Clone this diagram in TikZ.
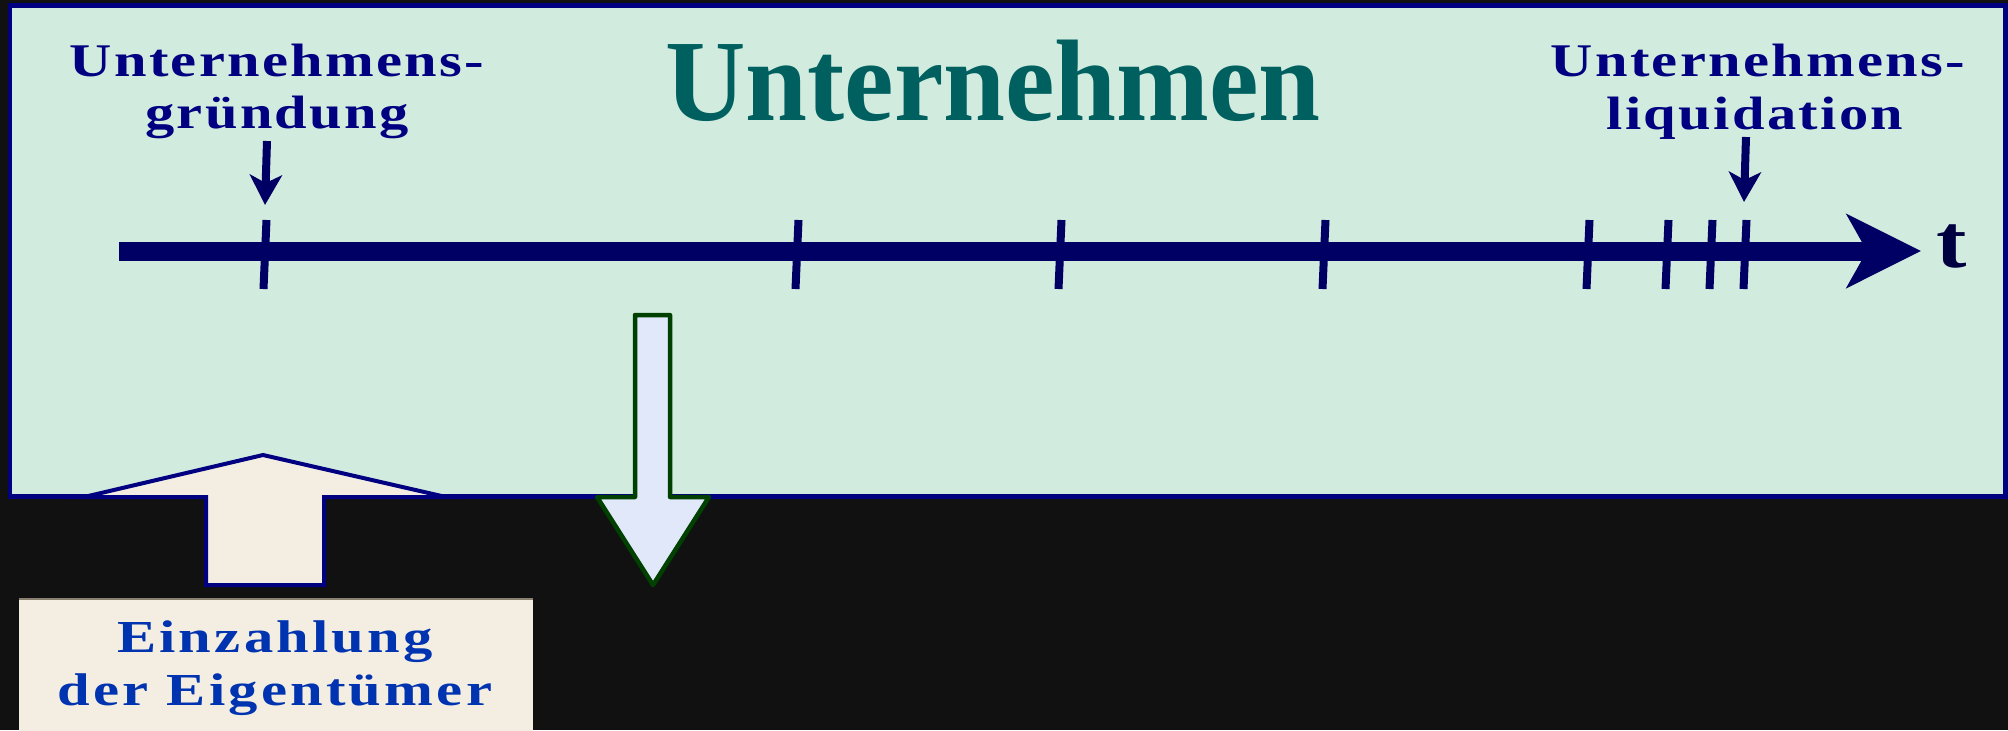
\documentclass[tikz,border=0pt]{standalone}
\usepackage{fontspec}
\setmainfont{Liberation Serif}
\newfontfamily\widefont[FakeStretch=1.25, LetterSpace=5]{Liberation Serif}
\newfontfamily\einfont[FakeStretch=1.28, LetterSpace=7]{Liberation Serif}
\newfontfamily\titlefont[FakeStretch=0.96]{Liberation Serif}
\newfontfamily\tfont[FakeStretch=1.2]{Liberation Serif}
\usetikzlibrary{arrows.meta}
\definecolor{bgdark}{HTML}{111111}
\definecolor{panel}{HTML}{D1ECDE}
\definecolor{navy}{HTML}{000080}
\definecolor{axis}{HTML}{000064}
\definecolor{titleteal}{HTML}{006060}
\definecolor{cream}{HTML}{F4EEE2}
\definecolor{lblue}{HTML}{E0E8FA}
\definecolor{dgreen}{HTML}{004000}
\definecolor{einblue}{HTML}{0033B0}
\definecolor{tcol}{HTML}{000040}
\definecolor{boxedge}{HTML}{8A8070}
\tikzset{
  lbl/.style={font=\widefont\bfseries\fontsize{23.4}{28}\selectfont, text=navy, anchor=base, inner sep=0pt},
  einlbl/.style={font=\einfont\bfseries\fontsize{22.9}{27}\selectfont, text=einblue, anchor=base, inner sep=0pt},
  tick/.style={axis, line width=4pt},
  smallarrow/.style={axis, line width=4pt, -{Stealth[length=15pt,width=16pt,inset=4pt]}},
}
\begin{document}
\begin{tikzpicture}[x=0.5pt,y=-0.5pt]
\useasboundingbox (0,0) rectangle (2008,730);
\fill[bgdark] (0,0) rectangle (2008,730);
% main panel
\draw[navy, line width=2.25pt, fill=panel] (10,5.5) rectangle (2005.5,496.5);
% title
\node[font=\titlefont\bfseries\fontsize{58}{70}\selectfont, text=titleteal, anchor=base, inner sep=0pt] (title) at (993,120) {Unternehmen};
% labels
\node[lbl] (gr1) at (277,76) {Unternehmens-};
\node[lbl] (gr2) at (277,128) {gründung};
\node[lbl] (li1) at (1758,76) {Unternehmens-};
\node[lbl] (li2) at (1755,129) {liquidation};
% timeline
\coordinate (tl0) at (119,251);
\coordinate (tl1) at (1921,251);
\draw[axis, line width=9.5pt, -{Stealth[length=37pt,width=36.5pt,inset=10pt]}] (tl0) -- (tl1);
\node[font=\tfont\bfseries\fontsize{38}{44}\selectfont, text=tcol, anchor=base, inner sep=0pt] (t) at (1952,267) {t};
\foreach \x in {265,797,1060,1324,1588,1667,1711,1745}
  \draw[tick] (\x+1.5,220) -- (\x-1.5,289);
% small arrows
\coordinate (ga0) at (267,141);
\coordinate (ga1) at (265,205);
\draw[smallarrow] (ga0) -- (ga1);
\coordinate (la0) at (1746,137);
\coordinate (la1) at (1744,202);
\draw[smallarrow] (la0) -- (la1);
% up arrow (Einzahlung)
\draw[navy, line width=2pt, fill=cream, line join=miter]
  (263,455) -- (446,497) -- (324,497) -- (324,585) -- (206,585) -- (206,497) -- (84,497) -- cycle;
% down arrow
\draw[dgreen, line width=2.25pt, fill=lblue, line join=round]
  (635,315) -- (670,315) -- (670,497) -- (709,497) -- (653,585) -- (597,497) -- (635,497) -- cycle;
% Einzahlung box
\fill[cream] (19,599) rectangle (533,735);
\draw[boxedge, line width=0.6pt] (19,599) -- (533,599);
\node[einlbl] (ez1) at (275,652) {Einzahlung};
\node[einlbl] (ez2) at (275,705) {der Eigentümer};
\end{tikzpicture}
\end{document}
